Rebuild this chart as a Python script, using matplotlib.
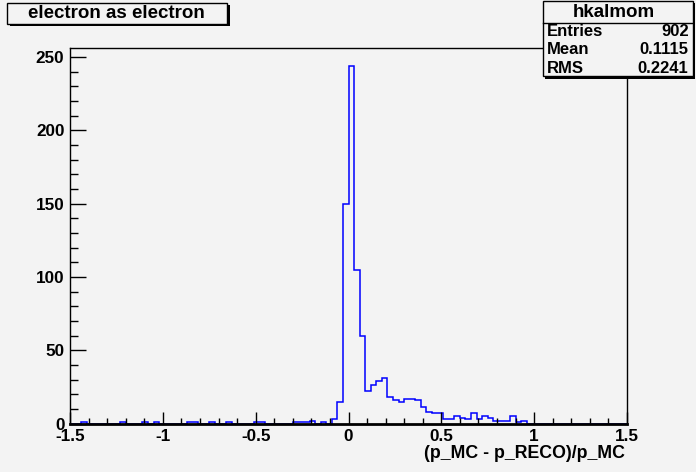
import numpy as np
import matplotlib
matplotlib.use("Agg")
import matplotlib.pyplot as plt
from matplotlib.patches import Rectangle
from matplotlib.ticker import MultipleLocator

# ---- data ----
x_min, x_max, n_bins = -1.5, 1.5, 100
counts = [0, 0, 1, 0, 0, 0, 0, 0, 0, 1,
          0, 0, 0, 1, 0, 1, 0, 0, 0, 0,
          0, 1, 1, 0, 0, 1, 0, 0, 1, 0,
          0, 0, 0, 1, 1, 0, 0, 0, 0, 0,
          1, 1, 1, 2, 0, 1, 0, 3, 15, 150,
          244, 105, 60, 22, 26, 29, 31, 18, 16, 15,
          17, 17, 16, 11, 8, 7, 7, 3, 3, 5,
          4, 3, 7, 3, 5, 4, 2, 2, 2, 5,
          1, 2, 0, 0, 0, 0, 0, 0, 0, 0,
          0, 0, 0, 0, 0, 0, 0, 0, 0, 0]
title = "electron as electron"
hist_name = "hkalmom"
stat_labels = ["Entries", "Mean", "RMS"]
stat_values = ["902", "0.1115", "0.2241"]
x_label = "(p_MC - p_RECO)/p_MC"
x_ticks = [-1.5, -1, -0.5, 0, 0.5, 1, 1.5]
x_ticklabels = ["-1.5", "-1", "-0.5", "0", "0.5", "1", "1.5"]
y_ticks = [0, 50, 100, 150, 200, 250]

# ---- figure ----
W, H = 696, 472
BG = "#f3f3f3"
plt.rcParams['font.family'] = ['Liberation Sans', 'DejaVu Sans']
plt.rcParams['font.weight'] = 'bold'

fig = plt.figure(figsize=(W / 100, H / 100), dpi=100, facecolor=BG)

def fx(px):
    return px / W

def fy(py):
    return 1 - py / H

ax = fig.add_axes([fx(70), fy(423.5), fx(627) - fx(70), fy(48) - fy(423.5)])
ax.set_facecolor(BG)

edges = np.linspace(x_min, x_max, n_bins + 1)
ax.stairs(counts, edges, color='blue', linewidth=1.1, baseline=0)

ax.set_xlim(x_min, x_max)
ax.set_ylim(0, 1.05 * max(counts))

ax.set_xticks(x_ticks)
ax.set_xticklabels(x_ticklabels)
ax.set_yticks(y_ticks)
ax.xaxis.set_minor_locator(MultipleLocator(0.1))
ax.yaxis.set_minor_locator(MultipleLocator(10))

px2pt = 0.72
ax.tick_params(axis='x', which='major', direction='in', length=12 * px2pt, width=1,
               pad=4.0, labelsize=12.3, top=False)
ax.tick_params(axis='x', which='minor', direction='in', length=6 * px2pt, width=1, top=False)
ax.tick_params(axis='y', which='major', direction='in', length=16 * px2pt, width=1,
               pad=4.0, labelsize=12.3, right=False)
ax.tick_params(axis='y', which='minor', direction='in', length=8 * px2pt, width=1, right=False)
for lab in ax.get_xticklabels() + ax.get_yticklabels():
    lab.set_fontweight('bold')

for s in ax.spines.values():
    s.set_linewidth(1)
    s.set_color('black')
ax.spines['bottom'].set_linewidth(2)

fig.text(fx(625), fy(454), x_label, ha='right', va='center', fontsize=12.8,
         fontweight='bold')

# ---- title box with shadow ----
def pave(x0, y0, x1, y1, shadow=2.5):
    fig.patches.append(Rectangle((fx(x0 + shadow), fy(y1 + shadow)),
                                 fx(x1 - x0), fy(y0) - fy(y1),
                                 transform=fig.transFigure, facecolor='black',
                                 edgecolor='black', linewidth=0, zorder=5))
    fig.patches.append(Rectangle((fx(x0), fy(y1)), fx(x1 - x0), fy(y0) - fy(y1),
                                 transform=fig.transFigure, facecolor=BG,
                                 edgecolor='black', linewidth=1, zorder=6))

pave(7, 3, 227, 23.5)
fig.text(fx(116.5), fy(14), title, ha='center', va='center', fontsize=13.5,
         fontweight='bold', zorder=7)

# ---- stats box ----
pave(542.5, 0.7, 692.5, 76)
fig.add_artist(plt.Line2D([fx(542.5), fx(692.5)], [fy(22.7), fy(22.7)],
                          transform=fig.transFigure, color='black', linewidth=1, zorder=7))
fig.text(fx(614), fy(12.5), hist_name, ha='center', va='center', fontsize=13.5,
         fontweight='bold', zorder=7)
row_y = [31.7, 50, 68.3]
for lbl, val, yy in zip(stat_labels, stat_values, row_y):
    fig.text(fx(546.5), fy(yy), lbl, ha='left', va='center', fontsize=12,
             fontweight='bold', zorder=7)
    fig.text(fx(688.5), fy(yy), val, ha='right', va='center', fontsize=12,
             fontweight='bold', zorder=7)

fig.savefig("out.png", dpi=100, facecolor=BG)
